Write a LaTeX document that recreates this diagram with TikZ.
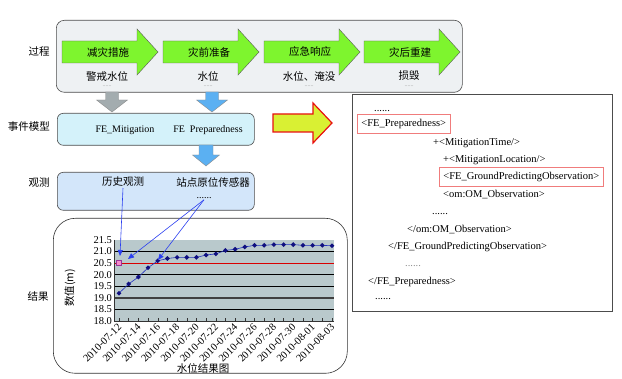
\documentclass[tikz,border=0pt]{standalone}
\usepackage{fontspec}
\setmainfont{Liberation Serif}
\newfontfamily\cjk{Noto Sans CJK SC}
\usetikzlibrary{arrows.meta,shapes.geometric}

\definecolor{panelgray}{HTML}{EEF1F3}
\definecolor{stagegreen}{HTML}{7EF52E}
\definecolor{arrowgray}{HTML}{A3ACAF}
\definecolor{arrowblue}{HTML}{5BB0F2}
\definecolor{modelcyan}{HTML}{D4F2FA}
\definecolor{obsblue}{HTML}{D3E6FA}
\definecolor{plotbg}{HTML}{B9C9CC}
\definecolor{arrowyellow}{HTML}{D9F033}
\definecolor{arrowred}{HTML}{E81010}
\definecolor{boxred}{HTML}{F07C7C}
\definecolor{ptrblue}{HTML}{2B3FF0}
\definecolor{datanavy}{HTML}{101080}

\tikzstyle {panel} = [draw=black!70, line width=0.6pt, anchor=north west, inner sep=0pt]
\tikzstyle {stage} = [draw=black!65, fill=stagegreen, line width=0.4pt]
\tikzstyle {zh} = [font=\cjk\fontsize{10.5}{12}\selectfont, inner sep=1pt]
\tikzstyle {en} = [font=\fontsize{10}{12}\selectfont, inner sep=1pt]
\tikzstyle {xml} = [font=\fontsize{10.5}{12}\selectfont, anchor=west, inner sep=1pt]
\tikzstyle {redbox} = [xml, draw=boxred, line width=0.8pt, inner xsep=4pt, minimum height=19pt]
\tikzstyle {hint} = [font=\fontsize{6}{6}\selectfont, text=black!40, inner sep=0pt]
\tikzstyle {pointer} = [draw=ptrblue, line width=0.6pt, -{Triangle[length=6pt,width=5pt]}]
\tikzstyle {datadot} = [diamond, fill=datanavy, inner sep=0pt, minimum size=5pt]

% block arrows: style, x, y, length, shaft half, head half, head length
\newcommand{\harrow}[7]{\draw[#1] ({#2},{#3-#5}) -- ({#2+#4-#7},{#3-#5}) -- ({#2+#4-#7},{#3-#6})
  -- ({#2+#4},{#3}) -- ({#2+#4-#7},{#3+#6}) -- ({#2+#4-#7},{#3+#5}) -- ({#2},{#3+#5}) -- cycle;}
\newcommand{\varrow}[7]{\draw[#1] ({#2-#5},{#3}) -- ({#2-#5},{#3+#4-#7}) -- ({#2-#6},{#3+#4-#7})
  -- ({#2},{#3+#4}) -- ({#2+#6},{#3+#4-#7}) -- ({#2+#5},{#3+#4-#7}) -- ({#2+#5},{#3}) -- cycle;}

\begin{document}
\begin{tikzpicture}[x=1pt, y=-1pt]
\useasboundingbox (0,0) rectangle (622,379);

% panels on the left
\node[panel, fill=panelgray, rounded corners=8pt, minimum width=406pt, minimum height=72pt] (process) at (56,20) {};
\node[panel, fill=modelcyan, rounded corners=6pt, minimum width=197pt, minimum height=32pt] (model) at (57,113) {};
\node[panel, fill=obsblue, rounded corners=6pt, minimum width=197pt, minimum height=38pt] (obs) at (57,172) {};
\node[panel, draw=black!80, rounded corners=22pt, minimum width=294pt, minimum height=155pt] (result) at (53,218) {};

\node[zh] (lprocess) at (39,52) {过程};
\node[zh] (lmodel) at (29,127) {事件模型};
\node[zh] (lobs) at (39,183) {观测};
\node[zh] (lresult) at (38,297) {结果};

% process stages
\foreach \x/\t/\s [count=\n] in {62/减灾措施/警戒水位, 163/灾前准备/水位, 264/应急响应/水位、淹没, 364/灾后重建/损毁} {
  \harrow{stage}{\x}{52}{96}{11}{23}{21}
  \node[zh] (stage\n) at (\x+46,52) {\t};
  \node[zh] (level\n) at (\x+45,76) {\s};
  \node[hint] (more\n) at (\x+45,86) {......};
}

\varrow{fill=arrowgray, draw=black!45}{112}{92}{20}{6.5}{15.5}{12}
\varrow{fill=arrowblue, draw=black!45}{212}{92}{20}{6.5}{15.5}{12}
\varrow{fill=arrowblue, draw=black!45}{206}{145}{21}{7}{13.5}{11}

\node[en] (mitig) at (125,130) {FE\_Mitigation};
\node[en] (prepare) at (208,130) {FE\ \ Preparedness};

\node[zh] (hist) at (123,182) {历史观测};
\node[zh] (sensor) at (213,182) {站点原位传感器};
\node[en] (obsmore) at (204,198) {......};

% water level chart
\begin{scope}[shift={(119,240)}, x=9.68pt, y=23.14pt]
  \fill[plotbg] (-0.52,-3.5) rectangle (22.2,0);
  \foreach \v in {18.5,19.5,20,21}
    \draw[black, line width=0.7pt] (-0.52,{\v-21.5}) -- (22.2,{\v-21.5});
  \draw[black!75, line width=1.4pt] (-0.52,-2.5) -- (22.2,-2.5);
  \draw[red!85!black, line width=0.9pt] (-0.52,-1) -- (22.2,-1);
  \draw[black!80] (-0.52,0) -- (-0.52,-3.5) -- (22.2,-3.5);
  \foreach \i in {0,...,22}
    \draw[black!80] (\i,-3.5) -- (\i,-3.37);
  \foreach \v in {18.0,18.5,19.0,19.5,20.0,20.5,21.0,21.5}
    \node[en, font=\fontsize{10.5}{12}\selectfont, anchor=east] at (-0.6,{\v-21.5}) {\v};
  \foreach \d [count=\k from 0] in {07-12,07-14,07-16,07-18,07-20,07-22,07-24,07-26,07-28,07-30,08-01,08-03}
    \node[en, font=\fontsize{10.5}{12}\selectfont, rotate=45, anchor=east] at ({2*\k+0.15},-3.67) {2010-\d};
  \draw[ptrblue!80!black, line width=0.6pt] plot coordinates {(0,-2.3) (1,-1.9) (2,-1.6) (3,-1.2) (4,-0.9) (5,-0.8)
    (6,-0.75) (7,-0.75) (8,-0.75) (9,-0.65) (10,-0.6) (11,-0.45) (12,-0.4) (13,-0.3) (14,-0.23) (15,-0.23)
    (16,-0.2) (17,-0.2) (18,-0.2) (19,-0.23) (20,-0.23) (21,-0.23) (22,-0.25)};
  \foreach \v [count=\i from 0] in {19.2,19.6,19.9,20.3,20.6,20.7,20.75,20.75,20.75,20.85,20.9,21.05,21.1,21.2,21.27,21.27,21.3,21.3,21.3,21.27,21.27,21.27,21.25}
    \node[datadot] (pt\i) at (\i,{\v-21.5}) {};
  \node[draw=violet!80, fill=magenta!45, inner sep=0pt, minimum size=5pt] (warn) at (0,-1) {};
\end{scope}

\node[zh, rotate=90] (ytitle) at (70,288) {数值(m)};
\node[zh] (xtitle) at (203,368) {水位结果图};

\coordinate (tipA) at (120,256);
\coordinate (tipB) at (128,259);
\coordinate (tipC) at (158,260);
\draw[pointer] (hist.south) -- (tipA);
\draw[pointer] (obsmore.south) -- (tipB);
\draw[pointer] (obsmore.south) -- (tipC);

% mapping arrow and XML fragment
\harrow{draw=arrowred, fill=arrowyellow, line width=1.2pt}{273}{123}{59}{9}{20}{19}

\node[draw=black!70, line width=0.6pt, anchor=north west, minimum width=260pt, minimum height=217pt] (xmlbox) at (352,94) {};
\node[xml] (x1) at (373,111) {......};
\node[redbox] (x2) at (357,124) {<FE\_Preparedness>};
\node[xml] (x3) at (432,143) {+<MitigationTime/>};
\node[xml] (x4) at (442,160) {+<MitigationLocation/>};
\node[redbox] (x5) at (439,177) {<FE\_GroundPredictingObservation>};
\node[xml] (x6) at (442,195) {<om:OM\_Observation>};
\node[xml] (x7) at (431,214) {......};
\node[xml] (x8) at (406,230) {</om:OM\_Observation>};
\node[xml] (x9) at (387,247) {</FE\_GroundPredictingObservation>};
\node[xml, text=black!45] (x10) at (404,266) {......};
\node[xml] (x11) at (367,282) {</FE\_Preparedness>};
\node[xml] (x12) at (374,299) {......};
\end{tikzpicture}
\end{document}
